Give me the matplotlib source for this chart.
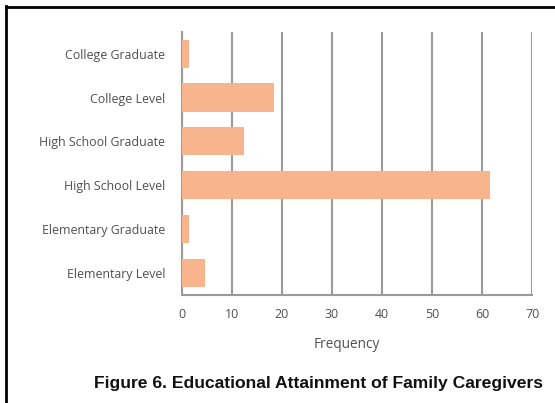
import matplotlib
matplotlib.use("Agg")
import matplotlib.pyplot as plt
from matplotlib.lines import Line2D

categories = ["Elementary Level", "Elementary Graduate", "High School Level",
              "High School Graduate", "College Level", "College Graduate"]
values = [4.6, 1.5, 61.5, 12.4, 18.4, 1.5]
xticks = [0, 10, 20, 30, 40, 50, 60, 70]

W, H = 555, 403
fig = plt.figure(figsize=(W / 100, H / 100), dpi=100)
ax = fig.add_axes([181.7 / W, 1 - 295 / H, (532.3 - 181.7) / W, (295 - 31.7) / H])

ax.barh(range(len(categories)), values, height=0.64, color="#F8B48C", zorder=3)
ax.set_ylim(-0.5, len(categories) - 0.5)
ax.set_xlim(0, 70)
ax.set_xticks(xticks)
ax.set_yticks(range(len(categories)))
ax.set_yticklabels(categories)
ax.grid(axis="x", color="#9a9a9a", linewidth=1.5, zorder=0)
ax.set_axisbelow(True)
for s in ["top", "right"]:
    ax.spines[s].set_visible(False)
for s in ["bottom", "left"]:
    ax.spines[s].set_color("#9a9a9a")
    ax.spines[s].set_linewidth(1.5)
ax.tick_params(axis="both", length=0, labelsize=8.9)
for lbl in ax.get_xticklabels() + ax.get_yticklabels():
    lbl.set_fontfamily("Open Sans")
    lbl.set_color("#505050")
ax.tick_params(axis="x", pad=9)
ax.tick_params(axis="y", pad=12)
ax.set_xlabel("Frequency", fontfamily="Open Sans", fontsize=9.8, color="#505050")
ax.xaxis.set_label_coords((347 - 181.7) / (532.3 - 181.7), -(345 - 295) / (295 - 31.7))
ax.xaxis.label.set_va("center")

fig.text(319 / W, 1 - 383.5 / H, "Figure 6. Educational Attainment of Family Caregivers",
         ha="center", va="center", fontfamily="Liberation Sans", fontweight="bold",
         fontsize=12.6, color="#111111")

# figure frame (top and left edges)
fig.add_artist(Line2D([5.5 / W, 5.5 / W], [0, 1 - 6 / H], transform=fig.transFigure,
                      color="black", linewidth=2))
fig.add_artist(Line2D([5.5 / W, 1], [1 - 6.5 / H, 1 - 6.5 / H], transform=fig.transFigure,
                      color="black", linewidth=2))

fig.savefig("out.png", dpi=100)
